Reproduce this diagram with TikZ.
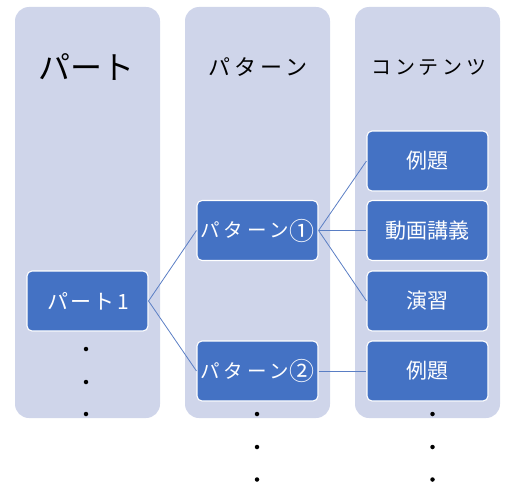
\documentclass[tikz,border=0pt]{standalone}
\usepackage{fontspec}
\setmainfont{Noto Sans CJK JP}
\newfontfamily\kanawide[LetterSpace=19]{Noto Sans CJK JP}
\newfontfamily\kanamid[LetterSpace=11]{Noto Sans CJK JP}
\newcommand{\circnum}[1]{\hspace*{0.02em}\raisebox{-2.2pt}{\rmfamily\fontsize{25}{26}\selectfont #1}}
\definecolor{colbg}{HTML}{CFD5EA}
\definecolor{nodeblue}{HTML}{4472C4}
\definecolor{linkblue}{HTML}{5A7EC4}
\tikzset{
  column/.style={fill=colbg, rounded corners=14pt},
  box/.style={draw=white, line width=1.1pt, fill=nodeblue, rounded corners=5pt,
    minimum width=121pt, minimum height=60pt, inner sep=0pt, text=white,
    font=\fontsize{21}{24}\selectfont},
  head/.style={text=black, inner sep=0pt},
  link/.style={draw=linkblue, line width=0.8pt},
  dot/.style={circle, fill=black, inner sep=0pt, minimum size=4.5pt}
}
\begin{document}
\begin{tikzpicture}[x=1pt,y=-1pt]
\useasboundingbox (0,0) rectangle (524,500);
% columns
\fill[column] (15,7) rectangle (160,418);
\fill[column] (185,7) rectangle (330,418);
\fill[column] (355,7) rectangle (500,418);
% headers
\node[head, font=\fontsize{32}{36}\selectfont] (h1) at (86,67) {パート};
\node[head, font=\fontsize{22}{26}\kanawide] (h2) at (257,67) {\hspace*{0.095em}パターン};
\node[head, font=\fontsize{20}{24}\kanawide] (h3) at (428,67) {\hspace*{0.095em}コンテンツ};
% boxes
\node[box, font=\fontsize{21}{24}\kanamid] (p1) at (87.5,301) {\hspace*{0.055em}パート1};
\node[box, font=\fontsize{19.5}{23}\kanawide] (pa1) at (257.5,230.5) {パターン\circnum{①}};
\node[box, font=\fontsize{19.5}{23}\kanawide] (pa2) at (257.5,371) {パターン\circnum{②}};
\node[box] (c1) at (427.5,161) {例題};
\node[box] (c2) at (427.5,230.5) {動画講義};
\node[box] (c3) at (427.5,301) {演習};
\node[box] (c4) at (427.5,371) {例題};
% links
\draw[link] (p1.east) -- (pa1.west);
\draw[link] (p1.east) -- (pa2.west);
\draw[link] (pa1.east) -- (c1.west);
\draw[link] (pa1.east) -- (c2.west);
\draw[link] (pa1.east) -- (c3.west);
\draw[link] (pa2.east) -- (c4.west);
% dots
\node[dot] (d11) at (86,349) {};
\node[dot] (d12) at (86,382) {};
\node[dot] (d13) at (86,414) {};
\node[dot] (d21) at (257,414) {};
\node[dot] (d22) at (257,447) {};
\node[dot] (d23) at (257,479.5) {};
\node[dot] (d31) at (432.5,414) {};
\node[dot] (d32) at (432.5,447) {};
\node[dot] (d33) at (432.5,479.5) {};
\end{tikzpicture}
\end{document}
